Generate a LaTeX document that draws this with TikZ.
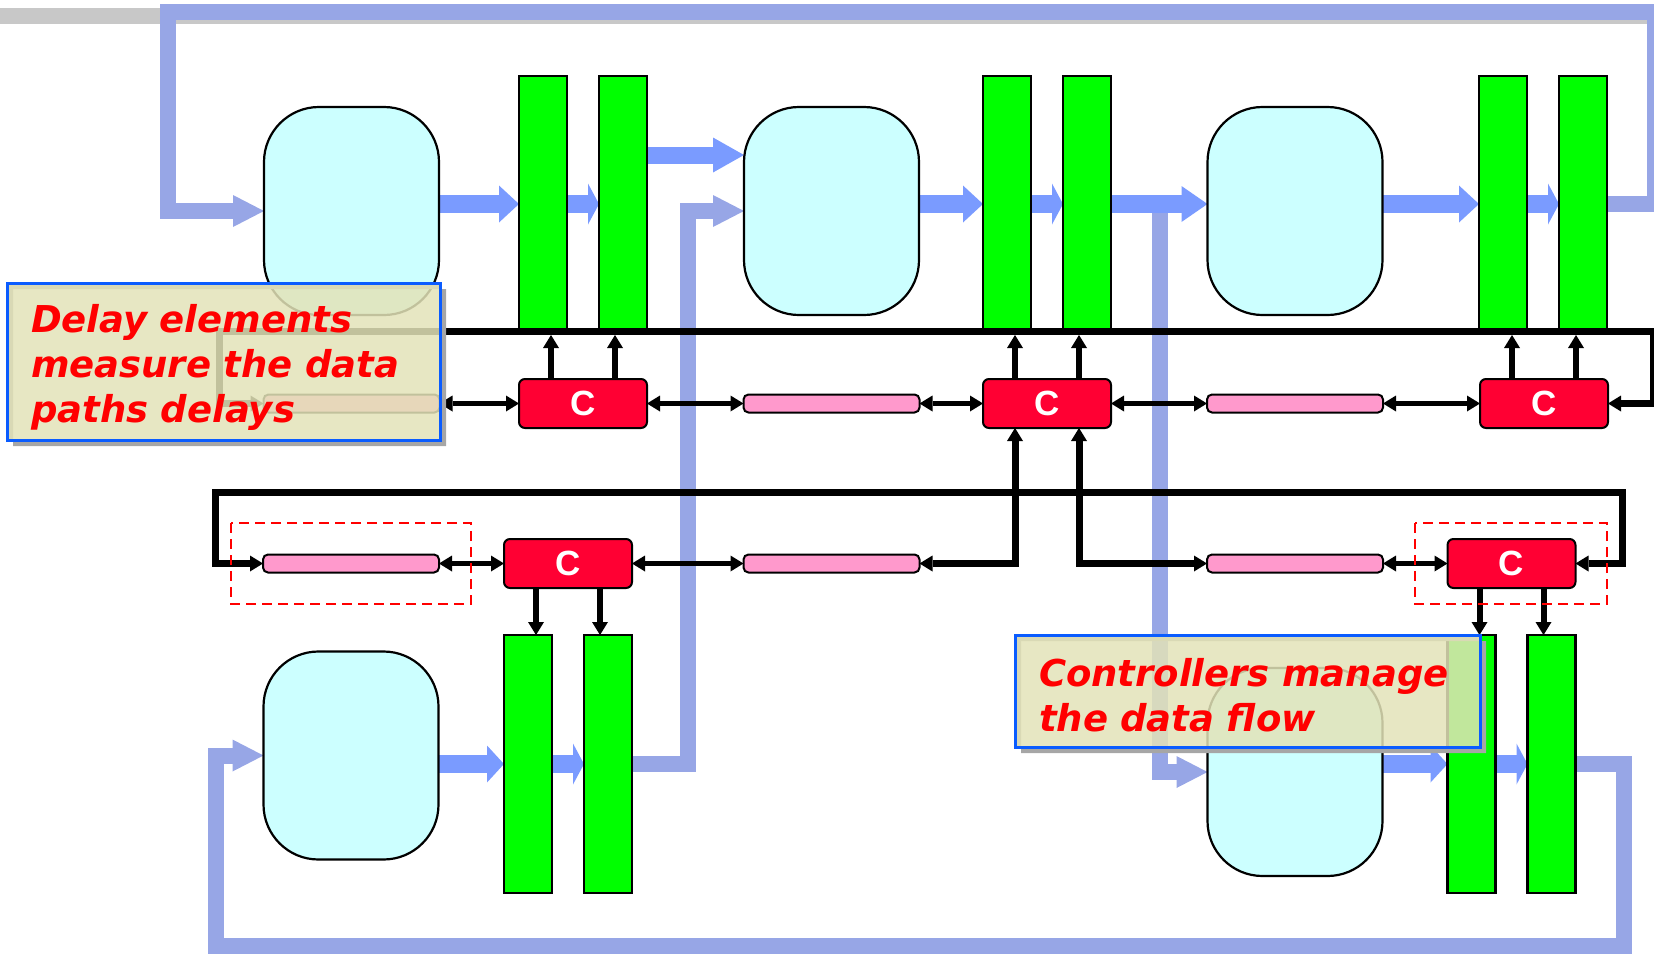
\documentclass[tikz,border=0pt]{standalone}
\usepackage{fontspec}
\usetikzlibrary{positioning, arrows.meta, calc, backgrounds}
\newfontfamily\notefont{DejaVu Sans Bold Oblique}
\newfontfamily\ctrlfont{Liberation Sans Bold}

\definecolor{loopblue}{HTML}{97A6E6}
\definecolor{datablue}{HTML}{7A9BFF}
\definecolor{logiccyan}{HTML}{CCFFFF}
\definecolor{reggreen}{HTML}{00FF00}
\definecolor{ctrlred}{HTML}{FF0033}
\definecolor{delaypink}{HTML}{FF99CC}
\definecolor{noteyellow}{HTML}{E3E3B8}
\definecolor{noteblue}{HTML}{0A5CFF}
\definecolor{rulegray}{HTML}{C8C8C8}

\begin{document}
\begin{tikzpicture}[
        x=1pt, y=-1pt,
        >={Triangle[length=13pt, width=16pt, line width=0pt]},
        comb/.style={rectangle, draw, line width=2.2pt, fill=logiccyan, rounded corners=55pt, minimum width=175pt, minimum height=208pt, inner sep=0pt, outer sep=0pt},
        reg/.style={rectangle, draw, line width=2.5pt, fill=reggreen, minimum width=48pt, minimum height=255pt, inner sep=0pt, outer sep=0pt},
        ctrl/.style={rectangle, draw, line width=2pt, fill=ctrlred, rounded corners=6pt, minimum width=128pt, minimum height=49pt, inner sep=0pt, outer sep=0pt, text=white, font=\ctrlfont\fontsize{35}{35}\selectfont},
        dly/.style={rectangle, draw, line width=2pt, fill=delaypink, rounded corners=5pt, minimum width=176pt, minimum height=18pt, inner sep=0pt, outer sep=0pt},
        note/.style={rectangle, draw=noteblue, line width=3pt, fill=noteyellow, fill opacity=0.85, text opacity=1, text=red, align=left, inner xsep=24pt, inner ysep=0pt, outer sep=0pt, font=\notefont\fontsize{37}{45}\selectfont},
        dashbox/.style={draw=red, line width=2.2pt, dash pattern=on 10pt off 6pt},
        feedback/.style={color=loopblue, line width=16pt, -{Triangle[length=31pt, width=32pt, line width=0pt]}},
        dataflow/.style={color=datablue, line width=18pt, -{Triangle[length=20pt, width=37pt, line width=0pt]}},
        regflow/.style={color=datablue, line width=18pt, -{Triangle[length=11pt, width=41pt, line width=0pt]}},
        bus/.style={line width=7pt},
        ctl/.style={line width=6pt, ->},
        dlink/.style={line width=5.5pt, <->}
    ]
        \useasboundingbox (0,0) rectangle (1654,953);

        % Pipeline, top row
        \node (b1) [comb] at (351.5,211) {};
        \node (r1a) [reg, anchor=north] at (543,76) {};
        \node (r1b) [reg, right=32pt of r1a] {};
        \node (b2) [comb] at (831.5,211) {};
        \node (r2a) [reg, anchor=north] at (1007,76) {};
        \node (r2b) [reg, right=32pt of r2a] {};
        \node (b3) [comb] at (1295,211) {};
        \node (r3a) [reg, anchor=north] at (1503,76) {};
        \node (r3b) [reg, right=32pt of r3a] {};

        % Pipeline, bottom row
        \node (b4) [comb] at (351,755.5) {};
        \node (r4a) [reg, anchor=north, minimum height=258pt] at (528,635) {};
        \node (r4b) [reg, minimum height=258pt, right=32pt of r4a] {};
        \node (b5) [comb] at (1295,772) {};
        \node (r5a) [reg, anchor=north, minimum height=258pt] at (1471.5,635) {};
        \node (r5b) [reg, minimum height=258pt, right=32pt of r5a] {};

        % Controllers and delay elements
        \node (c1) [ctrl] at (583,403.5) {C};
        \node (c2) [ctrl] at (1047,403.5) {C};
        \node (c3) [ctrl] at (1544,403.5) {C};
        \node (c4) [ctrl] at (568,563.5) {C};
        \node (c5) [ctrl] at (1511.5,563.5) {C};
        \node (d0) [dly] at (351.5,403.5) {};
        \node (d1) [dly] at (831.5,403.5) {};
        \node (d2) [dly] at (1295,403.5) {};
        \node (d3) [dly] at (351,563.5) {};
        \node (d4) [dly] at (831.5,563.5) {};
        \node (d5) [dly] at (1295,563.5) {};

        \coordinate (toprow) at (0,204);
        \coordinate (botrow) at (0,764);
        \coordinate (fwd) at (0,155);

        % Data paths
        \begin{scope}[on background layer]
            \draw [rulegray, line width=16pt] (0,16) -- (1647,16);
            \draw [feedback] (r3b.east |- toprow) -- (1655,204) |- (167.5,11.5) |- (b1.west);
            \draw [feedback] (r5b.east |- botrow) -- (1624,764) |- (215.5,946) |- (b4.west);
            \draw [feedback] (r4b.east |- botrow) -- (688,764) |- (b2.west);
            \draw [feedback] (1160,204) |- (b5.west);
            \draw [dataflow] (b1.east |- toprow) -- (r1a.west |- toprow);
            \draw [regflow] (r1a.east |- toprow) -- (r1b.west |- toprow);
            \draw [dataflow, line width=17pt, -{Triangle[length=31pt, width=35pt, line width=0pt]}] (r1b.east |- fwd) -- (b2.west |- fwd);
            \draw [dataflow] (b2.east |- toprow) -- (r2a.west |- toprow);
            \draw [regflow] (r2a.east |- toprow) -- (r2b.west |- toprow);
            \draw [dataflow, -{Triangle[length=26pt, width=36pt, line width=0pt]}] (r2b.east |- toprow) -- (b3.west |- toprow);
            \draw [dataflow] (b3.east |- toprow) -- (r3a.west |- toprow);
            \draw [regflow] (r3a.east |- toprow) -- (r3b.west |- toprow);
            \draw [dataflow, -{Triangle[length=17pt, width=37pt, line width=0pt]}] (b4.east |- botrow) -- (r4a.west |- botrow);
            \draw [regflow] (r4a.east |- botrow) -- (r4b.west |- botrow);
            \draw [dataflow, -{Triangle[length=17pt, width=37pt, line width=0pt]}] (b5.east |- botrow) -- (r5a.west |- botrow);
            \draw [regflow] (r5a.east |- botrow) -- (r5b.west |- botrow);
        \end{scope}

        % Control wires
        \draw [bus, <->] (d0.west) -- (219,403.5) |- (1653,331.5) |- (c3.east);
        \draw [bus, <->] (d3.west) -- (215.5,563.5) |- (1622,492) |- (c5.east);
        \draw [bus, <->] ([xshift=-32pt]c2.south) |- (d4.east);
        \draw [bus, <->] ([xshift=32pt]c2.south) |- (d5.west);

        \draw [ctl] ([xshift=-32pt]c1.north) -- ++(0,-44);
        \draw [ctl] ([xshift=32pt]c1.north) -- ++(0,-44);
        \draw [ctl] ([xshift=-32pt]c2.north) -- ++(0,-44);
        \draw [ctl] ([xshift=32pt]c2.north) -- ++(0,-44);
        \draw [ctl] ([xshift=-32pt]c3.north) -- ++(0,-44);
        \draw [ctl] ([xshift=32pt]c3.north) -- ++(0,-44);
        \draw [ctl] ([xshift=-32pt]c4.south) -- ++(0,47);
        \draw [ctl] ([xshift=32pt]c4.south) -- ++(0,47);
        \draw [ctl] ([xshift=-32pt]c5.south) -- ++(0,47);
        \draw [ctl] ([xshift=32pt]c5.south) -- ++(0,47);

        \draw [dlink] (d0.east) -- (c1.west);
        \draw [dlink] (c1.east) -- (d1.west);
        \draw [dlink] (d1.east) -- (c2.west);
        \draw [dlink] (c2.east) -- (d2.west);
        \draw [dlink] (d2.east) -- (c3.west);
        \draw [dlink] (d3.east) -- (c4.west);
        \draw [dlink] (c4.east) -- (d4.west);
        \draw [dlink] (d5.east) -- (c5.west);

        % Highlighted pairs
        \draw [dashbox] (231,523) rectangle (471,604);
        \draw [dashbox] (1415,523) rectangle (1607,604);

        % Notes
        \fill [gray!70, even odd rule] (13,289) rectangle (446,446) (7,283) rectangle (440,440);
        \node (note1) [note, anchor=north west, text width=385pt, minimum height=157pt] at (7,283) {\rule{0pt}{40pt}Delay elements\\measure the data\\paths delays};
        \fill [gray!70, even odd rule] (1021,641) rectangle (1486,753) (1015,635) rectangle (1480,747);
        \node (note2) [note, anchor=north west, text width=417pt, minimum height=112pt] at (1015,635) {\rule{0pt}{36pt}Controllers manage\\the data flow};
    \end{tikzpicture}
\end{document}
